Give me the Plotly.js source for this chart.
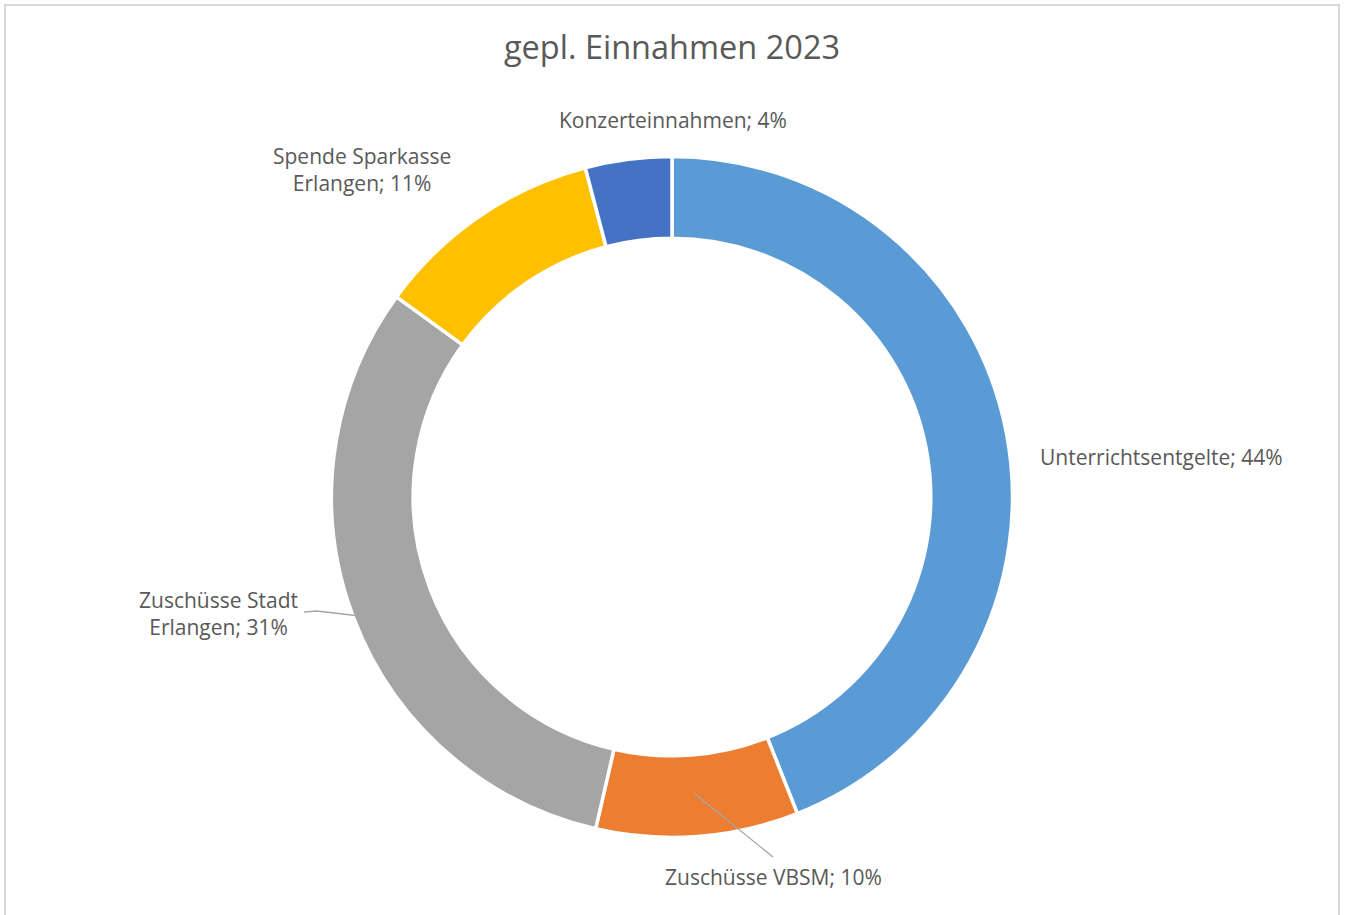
<!DOCTYPE html>
<html><head><meta charset="utf-8">
<script src="https://cdn.plot.ly/plotly-3.0.1.min.js"></script>
<style>html,body{margin:0;padding:0;background:#fff;overflow:hidden}#chart{width:1347px;height:915px}</style>
</head><body><div id="chart"></div>
<script>
const categories = ["Unterrichtsentgelte", "Zuschüsse VBSM", "Zuschüsse Stadt Erlangen", "Spende Sparkasse Erlangen", "Konzerteinnahmen"];
const values = [44.0, 9.6, 31.4, 10.9, 4.1];
const labelTexts = ["Unterrichtsentgelte; 44%", "Zuschüsse VBSM; 10%", "Zuschüsse Stadt<br>Erlangen; 31%", "Spende Sparkasse<br>Erlangen; 11%", "Konzerteinnahmen; 4%"];
const colors = ["#5B9BD5", "#ED7D31", "#A5A5A5", "#FFC000", "#4472C4"];

const W = 1347, H = 915;
const px = x => x / W, py = y => 1 - y / H;
const cx = 672, cy = 497, R = 338, hole = 0.76;
const Rdom = 340.5;

// label placement (pixel positions of text anchors)
const labelPos = [
  {x: 1038, y: 457, xa: 'left'},
  {x: 773, y: 877, xa: 'center'},
  {x: 218, y: 613, xa: 'center'},
  {x: 362, y: 170, xa: 'center'},
  {x: 673, y: 120, xa: 'center'}
];

const total = values.reduce((a, b) => a + b, 0);
let cum = 0;
const midAngles = values.map(v => { const a = (cum + v / 2) / total * 2 * Math.PI; cum += v; return a; });
const pt = (ang, r) => [cx + r * Math.sin(ang), cy - r * Math.cos(ang)];

const annotations = labelTexts.map((t, i) => ({
  text: t, xref: 'paper', yref: 'paper', x: px(labelPos[i].x), y: py(labelPos[i].y),
  xanchor: labelPos[i].xa, yanchor: 'middle', showarrow: false, align: 'center',
  font: {family: '"Open Sans", sans-serif', size: 21, color: '#595959'}
}));

// leader lines from slices to labels
const vbsmStart = pt(midAngles[1], R * (1 + hole) / 2);
const stadtStart = pt(midAngles[2], R);
const shapes = [
  {type: 'path', xref: 'paper', yref: 'paper',
   path: `M ${px(vbsmStart[0])} ${py(vbsmStart[1])} L ${px(773)} ${py(857)}`,
   line: {color: '#A6A6A6', width: 1.3}},
  {type: 'path', xref: 'paper', yref: 'paper',
   path: `M ${px(stadtStart[0])} ${py(stadtStart[1])} L ${px(317)} ${py(611)} L ${px(304)} ${py(612)}`,
   line: {color: '#A6A6A6', width: 1.3}},
  {type: 'path', xref: 'paper', yref: 'paper',
   path: `M ${px(5)} ${py(915)} L ${px(5)} ${py(5)} L ${px(1339)} ${py(5)} L ${px(1339)} ${py(915)}`,
   line: {color: '#D9D9D9', width: 2}}
];

const trace = {
  type: 'pie', labels: categories, values: values, hole: hole,
  sort: false, direction: 'clockwise', rotation: 0,
  marker: {colors: colors, line: {color: '#FFFFFF', width: 3.5}},
  textinfo: 'none', hoverinfo: 'label+percent', showlegend: false,
  domain: {x: [px(cx - Rdom), px(cx + Rdom)], y: [py(cy + Rdom), py(cy - Rdom)]}
};

const layout = {
  width: W, height: H, margin: {l: 0, r: 0, t: 0, b: 0},
  paper_bgcolor: '#FFFFFF', plot_bgcolor: '#FFFFFF',
  title: {text: 'gepl. Einnahmen 2023', x: px(672), xanchor: 'center', xref: 'paper',
          y: py(48), yanchor: 'middle', yref: 'container',
          font: {family: '"Open Sans", sans-serif', size: 32.5, color: '#595959'}},
  annotations: annotations, shapes: shapes, showlegend: false
};

Plotly.newPlot('chart', [trace], layout, {displayModeBar: false, staticPlot: true});
</script></body></html>
